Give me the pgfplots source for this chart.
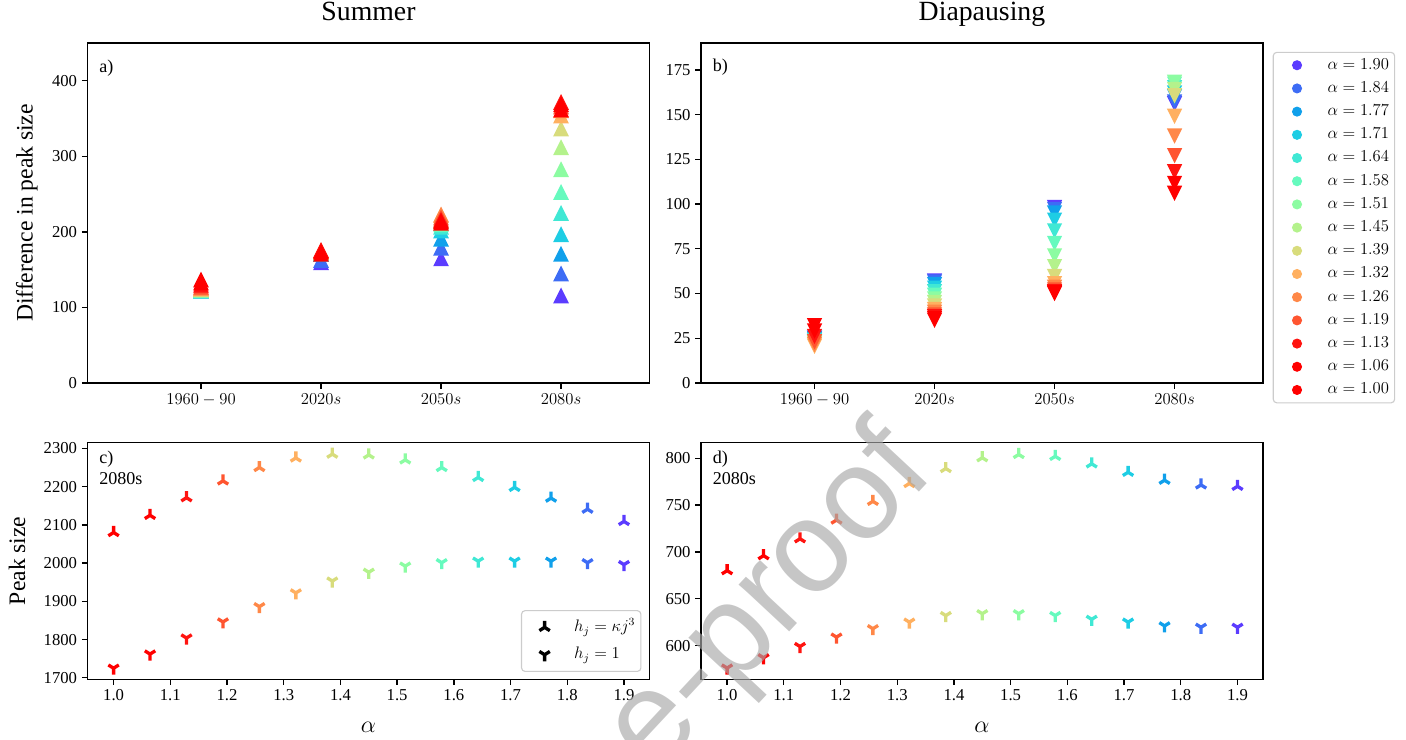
\documentclass[border=0pt]{standalone}
\usepackage{pgfplots}
\pgfplotsset{compat=1.18}
\usepackage{pgfplotstable}
\usepackage{fontspec}
\setmainfont{Liberation Serif}
\newfontfamily\wmfont{Liberation Sans}

\definecolor{c1}{RGB}{91,60,255}
\definecolor{c2}{RGB}{61,108,245}
\definecolor{c3}{RGB}{16,160,235}
\definecolor{c4}{RGB}{30,205,228}
\definecolor{c5}{RGB}{64,232,212}
\definecolor{c6}{RGB}{102,250,190}
\definecolor{c7}{RGB}{140,252,162}
\definecolor{c8}{RGB}{180,242,140}
\definecolor{c9}{RGB}{216,220,124}
\definecolor{c10}{RGB}{255,176,96}
\definecolor{c11}{RGB}{255,136,72}
\definecolor{c12}{RGB}{255,85,48}
\definecolor{c13}{RGB}{255,20,16}
\definecolor{c14}{RGB}{255,0,0}
\definecolor{c15}{RGB}{255,0,0}
\definecolor{wmgray}{RGB}{168,168,168}

% matplotlib-like markers
\pgfdeclareplotmark{mtriA}{%
  \pgfpathmoveto{\pgfqpoint{0pt}{\pgfplotmarksize}}%
  \pgfpathlineto{\pgfqpoint{-\pgfplotmarksize}{-\pgfplotmarksize}}%
  \pgfpathlineto{\pgfqpoint{\pgfplotmarksize}{-\pgfplotmarksize}}%
  \pgfpathclose\pgfusepathqfill}
\pgfdeclareplotmark{mtriV}{%
  \pgfpathmoveto{\pgfqpoint{0pt}{-\pgfplotmarksize}}%
  \pgfpathlineto{\pgfqpoint{-\pgfplotmarksize}{\pgfplotmarksize}}%
  \pgfpathlineto{\pgfqpoint{\pgfplotmarksize}{\pgfplotmarksize}}%
  \pgfpathclose\pgfusepathqfill}
\pgfdeclareplotmark{mtriU}{%
  \pgfpathmoveto{\pgfqpoint{0pt}{0pt}}\pgfpathlineto{\pgfqpoint{0pt}{\pgfplotmarksize}}%
  \pgfpathmoveto{\pgfqpoint{0pt}{0pt}}\pgfpathlineto{\pgfqpoint{0.8\pgfplotmarksize}{-0.5\pgfplotmarksize}}%
  \pgfpathmoveto{\pgfqpoint{0pt}{0pt}}\pgfpathlineto{\pgfqpoint{-0.8\pgfplotmarksize}{-0.5\pgfplotmarksize}}%
  \pgfusepathqstroke}
\pgfdeclareplotmark{mtriD}{%
  \pgfpathmoveto{\pgfqpoint{0pt}{0pt}}\pgfpathlineto{\pgfqpoint{0pt}{-\pgfplotmarksize}}%
  \pgfpathmoveto{\pgfqpoint{0pt}{0pt}}\pgfpathlineto{\pgfqpoint{0.8\pgfplotmarksize}{0.5\pgfplotmarksize}}%
  \pgfpathmoveto{\pgfqpoint{0pt}{0pt}}\pgfpathlineto{\pgfqpoint{-0.8\pgfplotmarksize}{0.5\pgfplotmarksize}}%
  \pgfusepathqstroke}

% Panel a: difference in peak size, summer (k1 = alpha 1.90 ... k15 = alpha 1.00)
\pgfplotstableread{
x k1 k2 k3 k4 k5 k6 k7 k8 k9 k10 k11 k12 k13 k14 k15
0 123.5 123 122.5 122 122.5 123 123.5 124 124.5 125 126 127.5 130 133 137
1 160 163 171 171.5 172 172.5 173 173.5 174 174.5 175 175.5 176 174 171
2 165 179 191 202 207 210 212 214 216 222 223 219 216 214 212
3 116 145 171 197 225 253 283 312 337 354 361 366 372 369 362
}\tabA

% Panel b: difference in peak size, diapausing
\pgfplotstableread{
x k1 k2 k3 k4 k5 k6 k7 k8 k9 k10 k11 k12 k13 k14 k15
0 25 25 24.5 24 23.5 23 22.5 22 21.5 20.5 21.5 23 26 29 32
1 57 56.5 55 53 51 49 47 45 43 41 39.5 38 37 36 35
2 98 97 95 91 85 78 71 65 59.5 55.5 53.5 52 51 50.5 50
3 156 157 160 162 165 167 168 164 160.5 149 138 127 118 111.5 106
}\tabB

% Panels c and d: peak size in the 2080s
\pgfplotstableread{
alpha cup cdn dup ddn cls
1.0000 2080 1725 680 576 k15
1.0643 2125 1762 696 587 k14
1.1286 2171 1804 714 599 k13
1.1929 2215 1846 734 609 k12
1.2571 2250 1886 754 618 k11
1.3214 2275 1922 773 625 k10
1.3857 2285 1953 789 632 k9
1.4500 2283 1976 800.5 634 k8
1.5143 2270 1992 804 634 k7
1.5786 2250 2001 802 632 k6
1.6429 2224 2005 794 628 k5
1.7071 2198 2005 785 625 k4
1.7714 2170 2005 776.5 621 k3
1.8357 2141 2001 771.5 619.5 k2
1.9000 2109 1996 770 619.5 k1
}\tabCD

\tikzset{panellab/.style={anchor=north west, inner sep=0pt, align=left, font=\fontsize{13}{15.2}\selectfont}}
\pgfplotsset{
  kcls/.style={scatter/classes={k1={c1},k2={c2},k3={c3},k4={c4},k5={c5},k6={c6},k7={c7},k8={c8},k9={c9},k10={c10},k11={c11},k12={c12},k13={c13},k14={c14},k15={c15}}},
  every axis/.append style={
    scale only axis, anchor=south west,
    axis line style={line width=1pt},
    tick style={line width=1pt, black},
    tick align=outside, major tick length=4pt, tick pos=left,
    tick label style={font=\fontsize{12}{14}\selectfont},
    /pgf/number format/assume math mode=true,
    /pgf/number format/1000 sep={},
    label style={font=\fontsize{17}{20}\selectfont},
    title style={font=\fontsize{20}{24}\selectfont},
  },
}

\begin{document}
\begin{tikzpicture}
\path[use as bounding box] (0,0) rectangle (1012.32pt,532.8pt);

% ---------- a) Summer
\begin{axis}[at={(63pt,257.04pt)}, width=404.64pt, height=244.8pt,
  xmin=-0.946, xmax=3.737, ymin=0, ymax=450,
  xtick={0,1,2,3}, xticklabels={$1960-90$,$2020s$,$2050s$,$2080s$},
  xticklabel style={font=\fontsize{11.5}{14}\selectfont},
  ytick={0,100,200,300,400},
  ylabel={Difference in peak size},
  ylabel style={at={(axis description cs:-0.108,0.5)}, anchor=center},
  title={Summer}, title style={at={(axis description cs:0.5,1.0403)}, anchor=base},
]
\pgfplotsinvokeforeach{1,...,15}{
  \addplot[forget plot, only marks, mark=mtriA, mark size=5.7pt, color=c#1] table[x=x, y=k#1]{\tabA};
}
\node[panellab] at (rel axis cs:0.0205,0.95) {a)};
\end{axis}

% ---------- b) Diapausing
\begin{axis}[at={(504.72pt,257.04pt)}, width=404.64pt, height=244.8pt,
  xmin=-0.946, xmax=3.737, ymin=0, ymax=190,
  xtick={0,1,2,3}, xticklabels={$1960-90$,$2020s$,$2050s$,$2080s$},
  xticklabel style={font=\fontsize{11.5}{14}\selectfont},
  ytick={0,25,50,75,100,125,150,175},
  title={Diapausing}, title style={at={(axis description cs:0.5,1.0403)}, anchor=base},
  legend cell align=left,
  legend style={at={(axis description cs:1,0.974)}, anchor=north west, xshift=7pt,
    draw=black!20, line width=0.8pt, rounded corners=2.5pt,
    font=\fontsize{11.5}{13}\selectfont,
    inner xsep=4pt, inner ysep=4pt, row sep=6.2pt, column sep=18.5pt,
    nodes={inner sep=0pt, text height=8pt, text depth=2.5pt}},
  legend image code/.code={\path[draw=none,fill=none] (-13.1pt,0pt) -- (3.5pt,0pt); \draw[#1] plot coordinates {(0pt,0pt)};},
]
\pgfplotsinvokeforeach{1,...,15}{
  \addplot[forget plot, only marks, mark=mtriV, mark size=5.5pt, color=c#1] table[x=x, y=k#1]{\tabB};
}
\addlegendimage{only marks, mark=*, mark size=3.2pt, color=c1}\addlegendentry{$\alpha=1.90$}
\addlegendimage{only marks, mark=*, mark size=3.2pt, color=c2}\addlegendentry{$\alpha=1.84$}
\addlegendimage{only marks, mark=*, mark size=3.2pt, color=c3}\addlegendentry{$\alpha=1.77$}
\addlegendimage{only marks, mark=*, mark size=3.2pt, color=c4}\addlegendentry{$\alpha=1.71$}
\addlegendimage{only marks, mark=*, mark size=3.2pt, color=c5}\addlegendentry{$\alpha=1.64$}
\addlegendimage{only marks, mark=*, mark size=3.2pt, color=c6}\addlegendentry{$\alpha=1.58$}
\addlegendimage{only marks, mark=*, mark size=3.2pt, color=c7}\addlegendentry{$\alpha=1.51$}
\addlegendimage{only marks, mark=*, mark size=3.2pt, color=c8}\addlegendentry{$\alpha=1.45$}
\addlegendimage{only marks, mark=*, mark size=3.2pt, color=c9}\addlegendentry{$\alpha=1.39$}
\addlegendimage{only marks, mark=*, mark size=3.2pt, color=c10}\addlegendentry{$\alpha=1.32$}
\addlegendimage{only marks, mark=*, mark size=3.2pt, color=c11}\addlegendentry{$\alpha=1.26$}
\addlegendimage{only marks, mark=*, mark size=3.2pt, color=c12}\addlegendentry{$\alpha=1.19$}
\addlegendimage{only marks, mark=*, mark size=3.2pt, color=c13}\addlegendentry{$\alpha=1.13$}
\addlegendimage{only marks, mark=*, mark size=3.2pt, color=c14}\addlegendentry{$\alpha=1.06$}
\addlegendimage{only marks, mark=*, mark size=3.2pt, color=c15}\addlegendentry{$\alpha=1.00$}
\node[panellab] at (rel axis cs:0.0205,0.953) {b)};
\end{axis}

% ---------- c) Summer 2080s peak size
\begin{axis}[at={(63pt,43.7pt)}, width=404.64pt, height=170.64pt,
  xmin=0.954, xmax=1.945, ymin=1696, ymax=2316,
  xtick={1.0,1.1,1.2,1.3,1.4,1.5,1.6,1.7,1.8,1.9},
  xticklabel style={/pgf/number format/.cd, fixed, fixed zerofill, precision=1},
  ytick={1700,1800,1900,2000,2100,2200,2300},
  xlabel={$\alpha$}, xlabel style={at={(axis description cs:0.5,-0.204)}, anchor=center},
  ylabel={Peak size}, ylabel style={at={(axis description cs:-0.1254,0.5)}, anchor=center},
  legend cell align=left,
  legend style={at={(axis description cs:1,0)}, anchor=south east, xshift=-5.8pt, yshift=5.3pt,
    draw=black!20, line width=0.8pt, rounded corners=2.5pt,
    font=\fontsize{12}{14}\selectfont,
    inner xsep=4pt, inner ysep=6pt, row sep=7.7pt, column sep=16.7pt,
    nodes={inner sep=0pt, text height=9pt, text depth=3pt}},
  legend image code/.code={\path[draw=none,fill=none] (-12.6pt,0pt) -- (4.6pt,0pt); \draw[#1] plot coordinates {(0pt,0pt)};},
]
\addplot[forget plot, scatter, only marks, scatter src=explicit symbolic, kcls, mark=mtriU, mark size=4.7pt, line width=2.4pt] table[x=alpha, y=cup, meta=cls]{\tabCD};
\addplot[forget plot, scatter, only marks, scatter src=explicit symbolic, kcls, mark=mtriD, mark size=4.7pt, line width=2.4pt] table[x=alpha, y=cdn, meta=cls]{\tabCD};
\addlegendimage{only marks, mark=mtriU, mark size=4.7pt, line width=2.4pt, black}\addlegendentry{$h_j=\kappa j^3$}
\addlegendimage{only marks, mark=mtriD, mark size=4.7pt, line width=2.4pt, black}\addlegendentry{$h_j=1$}
\node[panellab] at (rel axis cs:0.0205,0.9646) {c)\\2080s};
\end{axis}

% ---------- d) Diapausing 2080s peak size
\begin{axis}[at={(504.72pt,43.7pt)}, width=404.64pt, height=170.64pt,
  xmin=0.954, xmax=1.945, ymin=564, ymax=817,
  xtick={1.0,1.1,1.2,1.3,1.4,1.5,1.6,1.7,1.8,1.9},
  xticklabel style={/pgf/number format/.cd, fixed, fixed zerofill, precision=1},
  ytick={600,650,700,750,800},
  xlabel={$\alpha$}, xlabel style={at={(axis description cs:0.5,-0.204)}, anchor=center},
]
\addplot[forget plot, scatter, only marks, scatter src=explicit symbolic, kcls, mark=mtriU, mark size=4.7pt, line width=2.4pt] table[x=alpha, y=dup, meta=cls]{\tabCD};
\addplot[forget plot, scatter, only marks, scatter src=explicit symbolic, kcls, mark=mtriD, mark size=4.7pt, line width=2.4pt] table[x=alpha, y=ddn, meta=cls]{\tabCD};
\node[panellab] at (rel axis cs:0.0205,0.9646) {d)\\2080s};
\end{axis}

% watermark of the source page
\node[rotate=47, anchor=mid, inner sep=0pt, text=wmgray, opacity=0.65,
  font=\wmfont\fontsize{94}{94}\selectfont] at (571.2pt,84.2pt) {e-proof};
\end{tikzpicture}
\end{document}
